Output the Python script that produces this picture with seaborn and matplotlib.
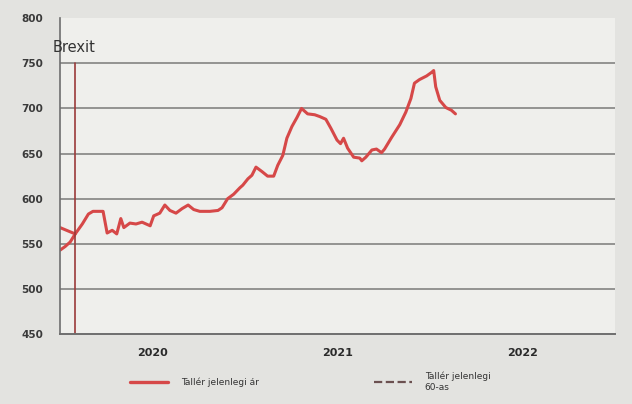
import matplotlib
matplotlib.use("Agg")
import matplotlib.pyplot as plt
from matplotlib.lines import Line2D
import seaborn as sns
import pandas as pd

dates = ["2020-01-01", "2020-01-11", "2020-01-21", "2020-01-31", "2020-02-14", "2020-02-26",
         "2020-03-06", "2020-03-26", "2020-04-03", "2020-04-13", "2020-04-22", "2020-04-30",
         "2020-05-06", "2020-05-18", "2020-05-30", "2020-06-11", "2020-06-27", "2020-07-04",
         "2020-07-16", "2020-07-26", "2020-08-05", "2020-08-17", "2020-08-29", "2020-09-10",
         "2020-09-21", "2020-10-03", "2020-10-23", "2020-11-08", "2020-11-16", "2020-11-27",
         "2020-12-09", "2020-12-21", "2020-12-27", "2021-01-06", "2021-01-14", "2021-01-22",
         "2021-02-03", "2021-02-14", "2021-02-26", "2021-03-06", "2021-03-16", "2021-03-24",
         "2021-04-03", "2021-04-13", "2021-04-22", "2021-05-04", "2021-05-18", "2021-05-28",
         "2021-06-09", "2021-06-19", "2021-07-01", "2021-07-08", "2021-07-14", "2021-07-22",
         "2021-08-03", "2021-08-15", "2021-08-19", "2021-08-27", "2021-09-08", "2021-09-17",
         "2021-09-27", "2021-10-03", "2021-10-17", "2021-11-02", "2021-11-14", "2021-11-24",
         "2021-12-01", "2021-12-11", "2021-12-25", "2022-01-04", "2022-01-08", "2022-01-12",
         "2022-01-20", "2022-02-01", "2022-02-12", "2022-02-20"]
values = [543, 547, 552, 561, 572, 583,
          586, 586, 562, 565, 561, 578,
          568, 573, 572, 574, 570, 581,
          584, 593, 587, 584, 589, 593,
          588, 586, 586, 587, 590, 600,
          605, 612, 615, 622, 626, 635,
          630, 625, 625, 637, 648, 667,
          680, 690, 700, 694, 693, 691,
          688, 678, 665, 661, 667, 656,
          646, 645, 642, 646, 654, 655,
          651, 655, 668, 682, 696, 711,
          728, 732, 736, 740, 742, 724,
          709, 701, 698, 694]

branch_dates = ["2020-01-01", "2020-01-31"]
branch_values = [568, 561]

brexit_date = "2020-01-31"
year_labels = ["2020", "2021", "2022"]
year_centers = ["2020-07-02", "2021-07-02", "2022-07-02"]
legend_labels = ["Tallér jelenlegi ár", "Tallér jelenlegi\n60-as"]

df = pd.DataFrame({"date": pd.to_datetime(dates), "value": values})
df_b = pd.DataFrame({"date": pd.to_datetime(branch_dates), "value": branch_values})

sns.set_style("white")
plt.rcParams['font.family'] = ['DejaVu Sans']

fig = plt.figure(figsize=(6.32, 4.04), dpi=100)
fig.patch.set_facecolor("#e3e3e0")
ax = fig.add_axes([0.095, 0.173, 0.878, 0.782])
ax.set_facecolor("#efefec")

red = "#d64848"
sns.lineplot(data=df, x="date", y="value", ax=ax, color=red, linewidth=2.2, legend=False)
sns.lineplot(data=df_b, x="date", y="value", ax=ax, color=red, linewidth=2.2, legend=False)

ax.set_xlim(pd.Timestamp("2020-01-01"), pd.Timestamp("2023-01-01"))
ax.set_ylim(450, 800)
for yv in [500, 550, 600, 650, 700, 750]:
    ax.axhline(yv, color="#8c8c8a", linewidth=1.3, zorder=0.5)

bd = pd.Timestamp(brexit_date)
ax.plot([bd, bd], [450, 750], color="#9a3a3a", linewidth=1.2)
ax.text(-0.013, 0.908, "Brexit", transform=ax.transAxes, fontsize=10.5, color="#333333",
        ha="left", va="center")

ax.set_yticks([450, 500, 550, 600, 650, 700, 750, 800])
ax.set_yticklabels([str(v) for v in [450, 500, 550, 600, 650, 700, 750, 800]],
                   fontsize=7.5, fontweight="bold", color="#3a3a3a")
ax.tick_params(axis="y", length=3, color="#777777", pad=9)

ax.set_xticks([pd.Timestamp(y + "-01-01") for y in ["2020", "2021", "2022", "2023"]])
ax.set_xticklabels([])
ax.tick_params(axis="x", length=3, color="#777777", direction="in")
ax.set_xticks([pd.Timestamp(c) for c in year_centers], minor=True)
ax.set_xticklabels(year_labels, minor=True, fontsize=8, fontweight="bold", color="#2a2a2a")
ax.tick_params(axis="x", which="minor", length=0, pad=10)

ax.set_xlabel("")
ax.set_ylabel("")
for s in ["top", "right"]:
    ax.spines[s].set_visible(False)
ax.spines["left"].set_color("#6e6e6e")
ax.spines["bottom"].set_color("#6e6e6e")
ax.spines["left"].set_linewidth(1.2)
ax.spines["bottom"].set_linewidth(1.4)

handles = [Line2D([], [], color=red, linewidth=2.4),
           Line2D([], [], color="#6b5050", linewidth=1.6, linestyle="--")]
fig.legend(handles, legend_labels, loc="upper left", bbox_to_anchor=(0.193, 0.1), ncol=2,
           frameon=False, fontsize=6.5, columnspacing=12.8, handlelength=4.2,
           handletextpad=1.4, labelcolor="#333333")

fig.savefig("out.png", dpi=100, facecolor=fig.get_facecolor())
